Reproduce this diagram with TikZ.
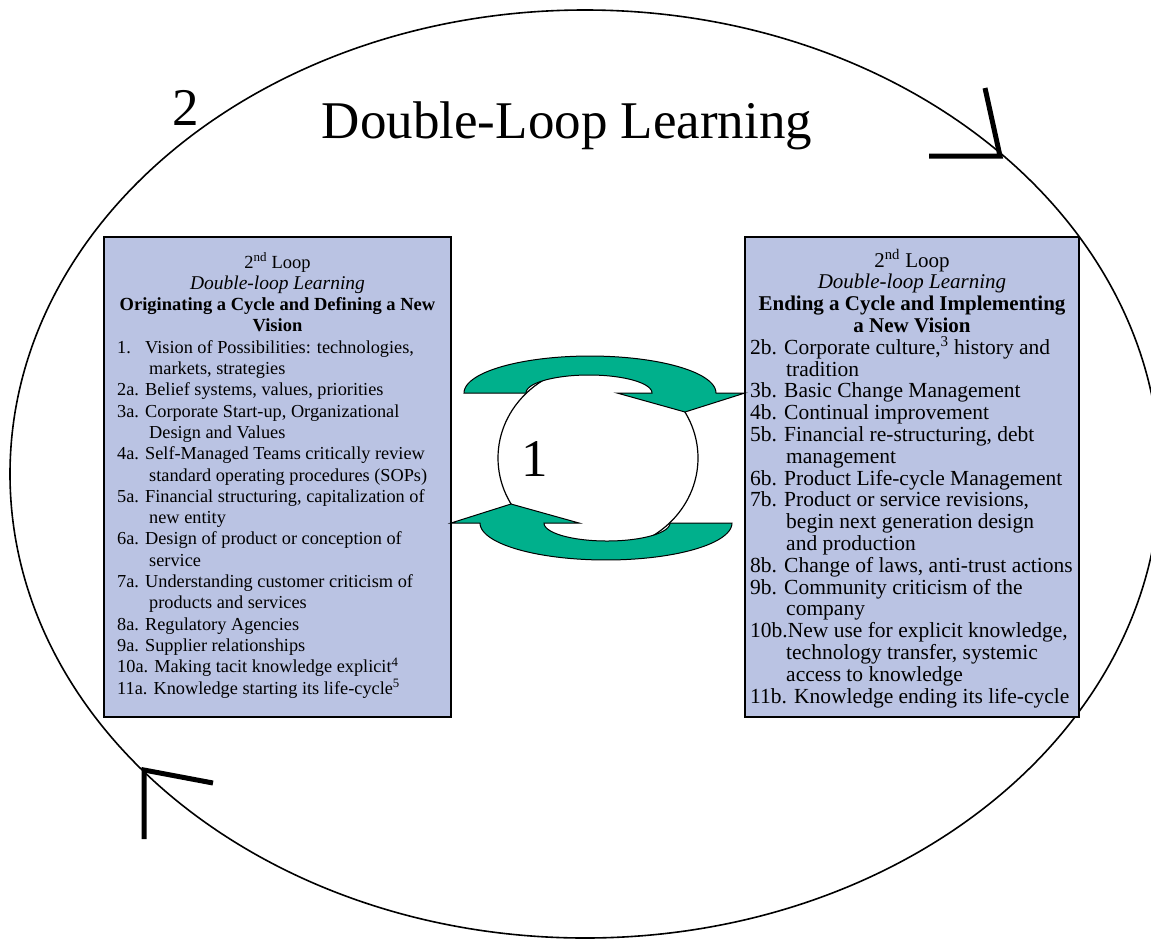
\documentclass[tikz,border=0pt]{standalone}
\usepackage{fontspec}
\setmainfont{Liberation Serif}
\definecolor{boxblue}{RGB}{186,195,227}
\definecolor{arrowgreen}{RGB}{0,176,140}
\begin{document}
\begin{tikzpicture}[x=1pt,y=-1pt,
  boxstyle/.style={fill=boxblue, draw=black, line width=1.5pt},
  greenarrow/.style={fill=arrowgreen, draw=black, line width=1pt, line join=miter},
  loopmark/.style={line width=5pt, line join=miter},
  bigtext/.style={anchor=base, inner sep=0pt, font=\fontsize{53}{60}\selectfont},
  lhead/.style={anchor=base, inner sep=0pt, font=\fontsize{18.5}{21}\selectfont},
  lbody/.style={anchor=base west, inner sep=0pt, font=\fontsize{18.3}{21}\selectfont},
  rhead/.style={anchor=base, inner sep=0pt, font=\fontsize{21}{22}\selectfont},
  rbody/.style={anchor=base west, inner sep=0pt, font=\fontsize{21.5}{22}\selectfont}
]
\clip (0,0) rectangle (1151,938);
\fill[white] (0,0) rectangle (1151,938);

% outer loop
\draw[line width=1.6pt] (585,474) ellipse [x radius=575, y radius=464];
\draw[loopmark] (985,88) -- (1000,156) -- (929,156);
\draw[loopmark] (144,839) -- (144,770) -- (213,783);

% boxes
\draw[boxstyle] (104,237) rectangle (451,717);
\draw[boxstyle] (745,237) rectangle (1079,717);

% inner loop
\draw[fill=white, line width=1.2pt] (598,458) ellipse [x radius=100, y radius=93];
\begin{scope}
\filldraw[greenarrow] (464,393) -- plot[domain=180:360, samples=60] ({590+126*cos(\x)},{393+37*sin(\x)})
  -- (745,393) -- (685,412) -- (617,393) -- (652,393)
  -- plot[domain=0:-180, samples=60] ({589+63*cos(\x)},{393+18*sin(\x)}) -- cycle;
\end{scope}
\begin{scope}[rotate around={180:(598,458)}]
\filldraw[greenarrow] (464,393) -- plot[domain=180:360, samples=60] ({590+126*cos(\x)},{393+37*sin(\x)})
  -- (745,393) -- (685,412) -- (617,393) -- (652,393)
  -- plot[domain=0:-180, samples=60] ({589+63*cos(\x)},{393+18*sin(\x)}) -- cycle;
\end{scope}

% big labels
\node[bigtext] (title) at (567,138) {Double-Loop Learning};
\node[bigtext] (two) at (186,125) {2};
\node[bigtext] (one) at (535,476) {1};

% left box
\foreach \i/\t in {0/{2\textsuperscript{nd} Loop}, 1/{\fontsize{19.5}{21}\selectfont\textit{Double-loop Learning}},
  2/{\textbf{Originating a Cycle and Defining a New}}, 3/{\textbf{Vision}}}
  \node[lhead] (LH\i) at (277.5,{268+21.3*\i}) {\t};
\foreach \i/\d/\t in {4/0/{\makebox[28pt][l]{1.}Vision of Possibilities: technologies,},
  5/1/{markets, strategies},
  6/0/{2a. Belief systems, values, priorities},
  7/0/{3a. Corporate Start-up, Organizational},
  8/1/{Design and Values},
  9/0/{4a. Self-Managed Teams critically review},
  10/1/{standard operating procedures (SOPs)},
  11/0/{5a. Financial structuring, capitalization of},
  12/1/{new entity},
  13/0/{6a. Design of product or conception of},
  14/1/{service},
  15/0/{7a. Understanding customer criticism of},
  16/1/{products and services},
  17/0/{8a. Regulatory Agencies},
  18/0/{9a. Supplier relationships},
  19/0/{10a. Making tacit knowledge explicit\textsuperscript{4}},
  20/0/{11a. Knowledge starting its life-cycle\textsuperscript{5}}}
  \node[lbody] (LB\i) at ({117+32*\d},{268+21.3*\i}) {\t};

% right box
\foreach \i/\t in {0/{2\textsuperscript{nd} Loop}, 1/{\textit{Double-loop Learning}},
  2/{\textbf{Ending a Cycle and Implementing}}, 3/{\textbf{a New Vision}}}
  \node[rhead] (RH\i) at (912,{267+21.8*\i}) {\t};
\foreach \i/\d/\t in {4/0/{2b. Corporate culture,\textsuperscript{3} history and},
  5/1/{tradition},
  6/0/{3b. Basic Change Management},
  7/0/{4b. Continual improvement},
  8/0/{5b. Financial re-structuring, debt},
  9/1/{management},
  10/0/{6b. Product Life-cycle Management},
  11/0/{7b. Product or service revisions,},
  12/1/{begin next generation design},
  13/1/{and production},
  14/0/{8b. Change of laws, anti-trust actions},
  15/0/{9b. Community criticism of the},
  16/1/{company},
  17/0/{10b.New use for explicit knowledge,},
  18/1/{technology transfer, systemic},
  19/1/{access to knowledge},
  20/0/{11b. Knowledge ending its life-cycle}}
  \node[rbody] (RB\i) at ({750+36*\d},{267+21.8*\i}) {\t};
\end{tikzpicture}
\end{document}
